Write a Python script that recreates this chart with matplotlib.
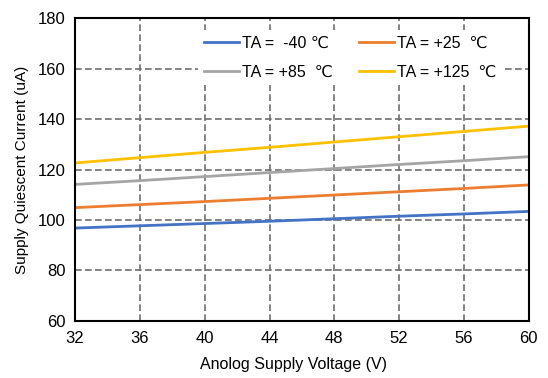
import numpy as np
import matplotlib
matplotlib.use('Agg')
import matplotlib.pyplot as plt

plt.rcParams['font.family'] = ['Liberation Sans', 'DejaVu Sans']

# supply voltage (V)
voltage = [32, 36, 40, 44, 48, 52, 56, 60]

# quiescent current (uA) per temperature
i_m40 = [96.8, 97.7, 98.6, 99.5, 100.5, 101.5, 102.4, 103.4]
i_p25 = [104.9, 106.1, 107.3, 108.6, 109.9, 111.2, 112.5, 113.9]
i_p85 = [114.1, 115.6, 117.2, 118.8, 120.4, 122.0, 123.5, 125.1]
i_p125 = [122.6, 124.7, 126.8, 128.8, 130.9, 133.0, 135.1, 137.2]

labels = ['TA =  -40 \u2103', 'TA = +25  \u2103', 'TA = +85  \u2103', 'TA = +125  \u2103']
colors = ['#4472c4', '#ed7d31', '#a5a5a5', '#ffc000']

fig = plt.figure(figsize=(5.48, 3.78), dpi=100)
ax = fig.add_axes([0.137, 0.151, 0.828, 0.801])

for ys, lab, c in zip([i_m40, i_p25, i_p85, i_p125], labels, colors):
    ax.plot(voltage, ys, color=c, lw=2, label=lab)

ax.set_xlim(32, 60)
ax.set_ylim(60, 180)
ax.set_xticks(np.arange(32, 61, 4))
ax.set_yticks(np.arange(60, 181, 20))
ax.grid(True, color='#6e6e6e', linestyle=(0, (4, 2)), linewidth=1.2)
ax.tick_params(length=0, labelsize=12, pad=7)
for s in ax.spines.values():
    s.set_linewidth(1.5)
    s.set_color('black')

ax.set_xlabel('Anolog Supply Voltage (V)', fontsize=11.5)
ax.xaxis.set_label_coords(0.482, -0.12)
ax.set_ylabel('Supply Quiescent Current (uA)', fontsize=11, labelpad=6)

# legend order: row-wise two columns, white box hides grid
h, l = ax.get_legend_handles_labels()
order = [0, 2, 1, 3]
leg = ax.legend([h[i] for i in order], [l[i] for i in order], ncol=2,
                loc='upper left', bbox_to_anchor=(0.272, 0.96), fontsize=11.5,
                handlelength=2.2, columnspacing=1.6, handletextpad=0.2,
                labelspacing=0.85, borderaxespad=0, borderpad=0.35,
                fancybox=False, framealpha=1)
leg.get_frame().set_edgecolor('none')
leg.get_frame().set_facecolor('white')

fig.savefig('out.png', dpi=100)
